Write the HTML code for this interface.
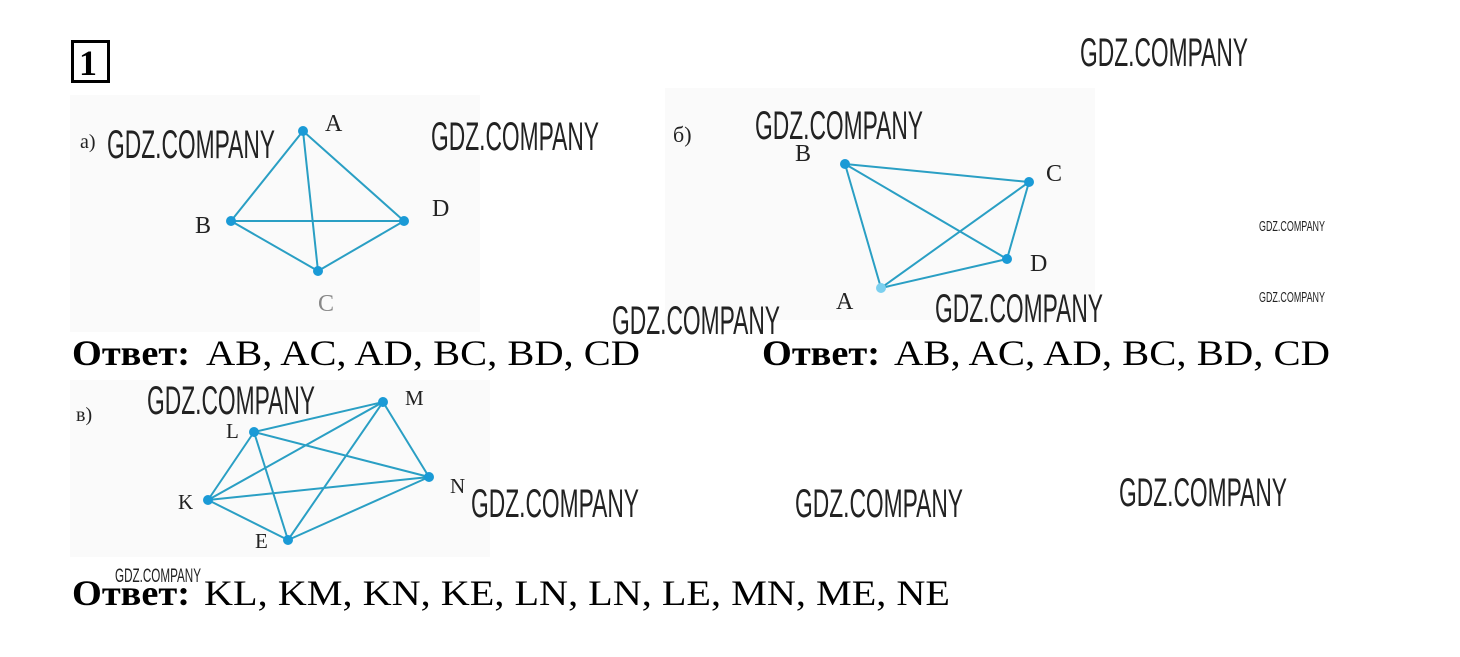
<!DOCTYPE html>
<html><head><meta charset="utf-8"><style>
html,body{margin:0;padding:0;background:#fff;}
svg{display:block;}
.w{font-family:"Liberation Sans",sans-serif;font-size:40px;fill:#222;}
.s{font-family:"Liberation Serif",serif;fill:#222;font-size:24px;}
.ans{font-family:"Liberation Serif",serif;font-size:36px;fill:#000;}
</style></head><body>
<svg width="1460" height="657" viewBox="0 0 1460 657" xmlns="http://www.w3.org/2000/svg">
<rect x="70" y="95" width="410" height="237" fill="#fafafa"/>
<rect x="665" y="88" width="430" height="232" fill="#fafafa"/>
<rect x="70" y="380" width="420" height="177" fill="#fafafa"/>
<rect x="72.5" y="41.5" width="36" height="40" fill="none" stroke="#000" stroke-width="3"/>
<text x="79" y="75" font-family="Liberation Serif,serif" font-weight="bold" font-size="36">1</text>

<g stroke="#2a9fc4" stroke-width="2" fill="none">
<path d="M303,131L231,221M303,131L404,221M303,131L318,271M231,221L404,221M231,221L318,271M404,221L318,271"/>
<path d="M845,164L1029,182M845,164L1007,259M845,164L881,288M1029,182L1007,259M1029,182L881,288M881,288L1007,259"/>
<path d="M254,432L383,402M254,432L429,477M254,432L208,500M254,432L288,540M383,402L208,500M383,402L429,477M383,402L288,540M429,477L208,500M429,477L288,540M208,500L288,540"/>
</g>
<g fill="#1a9ad6">
<circle cx="303" cy="131" r="5"/><circle cx="231" cy="221" r="5"/><circle cx="404" cy="221" r="5"/><circle cx="318" cy="271" r="5"/>
<circle cx="845" cy="164" r="5"/><circle cx="1029" cy="182" r="5"/><circle cx="1007" cy="259" r="5"/><circle cx="881" cy="288" r="5" fill="#7cd0ef"/>
<circle cx="383" cy="402" r="5"/><circle cx="254" cy="432" r="5"/><circle cx="429" cy="477" r="5"/><circle cx="208" cy="500" r="5"/><circle cx="288" cy="540" r="5"/>
</g>
<g class="s">
<text x="80" y="148" font-size="20">а)</text>
<text x="325" y="131">A</text><text x="432" y="216">D</text><text x="195" y="233">B</text><text x="318" y="311" fill="#888">C</text>
<text x="673" y="142" font-size="22">б)</text>
<text x="795" y="161">B</text><text x="1046" y="181">C</text><text x="1030" y="271">D</text><text x="836" y="309">A</text>
<text x="76" y="421" font-size="20">в)</text>
<text x="405" y="405" font-size="21">M</text><text x="226" y="438" font-size="21">L</text><text x="450" y="493" font-size="21">N</text><text x="178" y="509" font-size="21">K</text><text x="255" y="548" font-size="21">E</text>
</g>
<g class="ans">
<text x="72" y="365" font-weight="bold" textLength="118" lengthAdjust="spacingAndGlyphs">Ответ:</text>
<text x="206" y="365" textLength="434" lengthAdjust="spacingAndGlyphs">AB, AC, AD, BC, BD, CD</text>
<text x="762" y="365" font-weight="bold" textLength="118" lengthAdjust="spacingAndGlyphs">Ответ:</text>
<text x="894" y="365" textLength="436" lengthAdjust="spacingAndGlyphs">AB, AC, AD, BC, BD, CD</text>
<text x="72" y="605" font-weight="bold" textLength="118" lengthAdjust="spacingAndGlyphs">Ответ:</text>
<text x="204" y="605" textLength="746" lengthAdjust="spacingAndGlyphs">KL, KM, KN, KE, LN, LN, LE, MN, ME, NE</text>
</g>
<g class="w">
<text x="1080" y="66" textLength="168" lengthAdjust="spacingAndGlyphs">GDZ.COMPANY</text>
<text x="107" y="158" textLength="168" lengthAdjust="spacingAndGlyphs">GDZ.COMPANY</text>
<text x="431" y="150" textLength="168" lengthAdjust="spacingAndGlyphs">GDZ.COMPANY</text>
<text x="755" y="139" textLength="168" lengthAdjust="spacingAndGlyphs">GDZ.COMPANY</text>
<text x="612" y="334" textLength="168" lengthAdjust="spacingAndGlyphs">GDZ.COMPANY</text>
<text x="935" y="322" textLength="168" lengthAdjust="spacingAndGlyphs">GDZ.COMPANY</text>
<text x="147" y="414" textLength="168" lengthAdjust="spacingAndGlyphs">GDZ.COMPANY</text>
<text x="471" y="517" textLength="168" lengthAdjust="spacingAndGlyphs">GDZ.COMPANY</text>
<text x="795" y="517" textLength="168" lengthAdjust="spacingAndGlyphs">GDZ.COMPANY</text>
<text x="1119" y="506" textLength="168" lengthAdjust="spacingAndGlyphs">GDZ.COMPANY</text>
<text x="1259" y="231" font-size="15" textLength="66" lengthAdjust="spacingAndGlyphs">GDZ.COMPANY</text>
<text x="1259" y="302" font-size="15" textLength="66" lengthAdjust="spacingAndGlyphs">GDZ.COMPANY</text>
<text x="115" y="582" font-size="19" textLength="86" lengthAdjust="spacingAndGlyphs">GDZ.COMPANY</text>
</g>
</svg>
</body></html>
